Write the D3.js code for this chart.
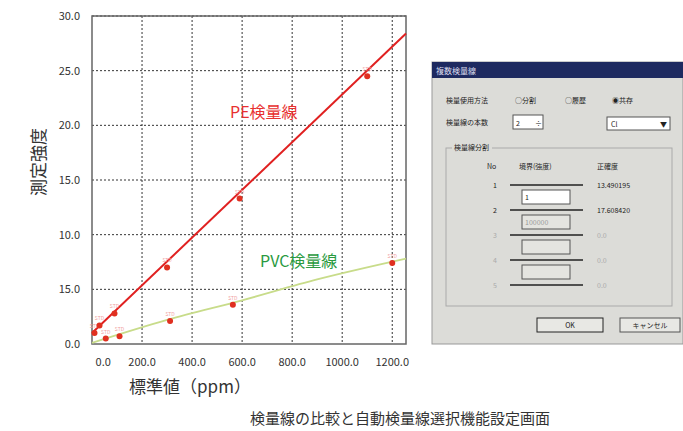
<!DOCTYPE html>
<html><head><meta charset="utf-8">
<script src="https://cdn.jsdelivr.net/npm/d3@7"></script>
<style>body{margin:0;background:#fff}text{font-family:"Noto Sans CJK JP","DejaVu Sans",sans-serif;white-space:pre}</style>
</head><body><svg id="c" width="683" height="431"></svg>
<script>
// tick labels as printed (the scan really says 15.0 twice)
var yTickVals = [0, 5, 10, 15, 20, 25, 30];
var yTickLabels = ["0.0", "15.0", "10.0", "15.0", "20.0", "25.0", "30.0"];
var xTickVals = [45, 200, 400, 600, 800, 1000, 1200];
var xTickLabels = ["0.0", "200.0", "400.0", "600.0", "800.0", "1000.0", "1200.0"];
var xGrid = [200, 400, 600, 800, 1000, 1200];

var pePoints = [[10, 1.0], [30, 1.7], [90, 2.8], [300, 7.0], [590, 13.3], [1100, 24.5]];
var peLine = [[0, 1.0], [1255, 28.4]];
var pvcPoints = [[55, 0.5], [110, 0.7], [312, 2.1], [563, 3.6], [1200, 7.4]];
var pvcLine = [[0, 0.1], [300, 2.2], [600, 4.0], [900, 5.9], [1255, 7.8]];

var svg = d3.select("#c");
var x = d3.scaleLinear().domain([0, 1255]).range([92, 406]);
var y = d3.scaleLinear().domain([0, 30]).range([344, 16]);

// grid
svg.selectAll(".hg").data(yTickVals.slice(1)).enter().append("line")
  .attr("x1", 92).attr("x2", 406).attr("y1", d => y(d)).attr("y2", d => y(d))
  .attr("stroke", "#333").attr("stroke-dasharray", "2,2");
svg.selectAll(".vg").data(xGrid).enter().append("line")
  .attr("y1", 16).attr("y2", 344).attr("x1", d => x(d)).attr("x2", d => x(d))
  .attr("stroke", "#333").attr("stroke-dasharray", "2,2");
svg.append("rect").attr("x", 92).attr("y", 16).attr("width", 314).attr("height", 328)
  .attr("fill", "none").attr("stroke", "#666").attr("stroke-width", 1.5);

svg.selectAll(".yl").data(yTickVals).enter().append("text")
  .attr("x", 80).attr("y", d => y(d) + 4).attr("text-anchor", "end")
  .attr("font-size", 11).attr("fill", "#333").text((d, i) => yTickLabels[i]);
svg.selectAll(".xl").data(xTickVals).enter().append("text")
  .attr("x", d => x(d)).attr("y", 366).attr("text-anchor", "middle")
  .attr("font-size", 11).attr("fill", "#333").text((d, i) => xTickLabels[i]);

var line = d3.line().x(d => x(d[0])).y(d => y(d[1]));
var curve = d3.line().x(d => x(d[0])).y(d => y(d[1])).curve(d3.curveMonotoneX);
svg.append("path").attr("d", curve(pvcLine)).attr("fill", "none").attr("stroke", "#c8dc8a").attr("stroke-width", 1.8);
svg.append("path").attr("d", line(peLine)).attr("fill", "none").attr("stroke", "#e02020").attr("stroke-width", 2);

function pts(data) {
  var g = svg.append("g").selectAll("g").data(data).enter().append("g");
  g.append("circle").attr("cx", d => x(d[0])).attr("cy", d => y(d[1])).attr("r", 3).attr("fill", "#e03020");
  g.append("text").attr("x", d => x(d[0])).attr("y", d => y(d[1]) - 5).attr("text-anchor", "middle")
    .attr("font-size", 5).attr("fill", "#f0a0a0").text("STD");
}
pts(pePoints); pts(pvcPoints);

svg.append("text").attr("x", 230).attr("y", 118).attr("font-size", 16).attr("fill", "#e83030").text("PE検量線");
svg.append("text").attr("x", 260).attr("y", 267).attr("font-size", 16).attr("fill", "#2a9a40").text("PVC検量線");

svg.append("text").attr("x", 190).attr("y", 393).attr("text-anchor", "middle").attr("font-size", 17).attr("fill", "#333").text("標準値（ppm）");
svg.append("text").attr("transform", "translate(45,162) rotate(-90)").attr("text-anchor", "middle").attr("font-size", 17).attr("fill", "#333").text("測定強度");
svg.append("text").attr("x", 400).attr("y", 424).attr("text-anchor", "middle").attr("font-size", 15).attr("fill", "#333").text("検量線の比較と自動検量線選択機能設定画面");

// dialog screenshot
var dg = svg.append("g").attr("font-size", 7).attr("fill", "#222");
dg.append("rect").attr("x", 432).attr("y", 62).attr("width", 251).attr("height", 282).attr("fill", "#dcdcd8").attr("stroke", "#999");
dg.append("rect").attr("x", 432).attr("y", 62).attr("width", 251).attr("height", 16).attr("fill", "#1e2a60");
dg.append("text").attr("x", 436).attr("y", 74).attr("fill", "#dde").attr("font-size", 8).text("複数検量線");
dg.append("text").attr("x", 446).attr("y", 103).text("検量使用方法");
dg.append("text").attr("x", 515).attr("y", 103).text("○分割");
dg.append("text").attr("x", 565).attr("y", 103).text("○履歴");
dg.append("text").attr("x", 612).attr("y", 103).text("◉共存");
dg.append("text").attr("x", 446).attr("y", 125).text("検量線の本数");
dg.append("rect").attr("x", 513).attr("y", 115).attr("width", 30).attr("height", 14).attr("fill", "#fff").attr("stroke", "#555");
dg.append("text").attr("x", 516).attr("y", 126).text("2");
dg.append("text").attr("x", 535).attr("y", 126).text("÷");
dg.append("rect").attr("x", 607).attr("y", 117).attr("width", 63).attr("height", 13).attr("fill", "#fff").attr("stroke", "#555");
dg.append("text").attr("x", 611).attr("y", 127).text("Cl");
dg.append("text").attr("x", 660).attr("y", 127).text("▼");
dg.append("rect").attr("x", 446).attr("y", 148).attr("width", 226).attr("height", 158).attr("fill", "none").attr("stroke", "#aaa");
dg.append("rect").attr("x", 452).attr("y", 143).attr("width", 40).attr("height", 9).attr("fill", "#dcdcd8");
dg.append("text").attr("x", 454).attr("y", 150).text("検量線分割");
dg.append("text").attr("x", 487).attr("y", 169).text("No");
dg.append("text").attr("x", 519).attr("y", 169).text("境界(強度)");
dg.append("text").attr("x", 597).attr("y", 169).text("正確度");
var rowsNo = ["1", "2", "3", "4", "5"];
var rowsAcc = ["13.490195", "17.608420", "0.0", "0.0", "0.0"];
var rowsBox = ["1", "100000", "", ""];
rowsNo.forEach(function (n, i) {
  var yy = 185 + i * 25;
  var c = i < 2 ? "#222" : "#aaa";
  dg.append("text").attr("x", 493).attr("y", yy + 3).attr("fill", c).text(n);
  dg.append("line").attr("x1", 510).attr("x2", 583).attr("y1", yy).attr("y2", yy).attr("stroke", "#222").attr("stroke-width", 1.5);
  dg.append("text").attr("x", 597).attr("y", yy + 3).attr("fill", c).text(rowsAcc[i]);
  if (i < 4) {
    dg.append("rect").attr("x", 522).attr("y", yy + 5).attr("width", 48).attr("height", 14)
      .attr("fill", i === 0 ? "#fff" : "#e4e4e0").attr("stroke", "#555");
    dg.append("text").attr("x", 525).attr("y", yy + 15).attr("fill", i === 0 ? "#222" : "#999").text(rowsBox[i]);
  }
});
dg.append("rect").attr("x", 537).attr("y", 318).attr("width", 66).attr("height", 14).attr("fill", "#e8e8e4").attr("stroke", "#222");
dg.append("text").attr("x", 570).attr("y", 328).attr("text-anchor", "middle").text("OK");
dg.append("rect").attr("x", 620).attr("y", 318).attr("width", 60).attr("height", 14).attr("fill", "#e8e8e4").attr("stroke", "#555");
dg.append("text").attr("x", 650).attr("y", 328).attr("text-anchor", "middle").text("キャンセル");
</script></body></html>
